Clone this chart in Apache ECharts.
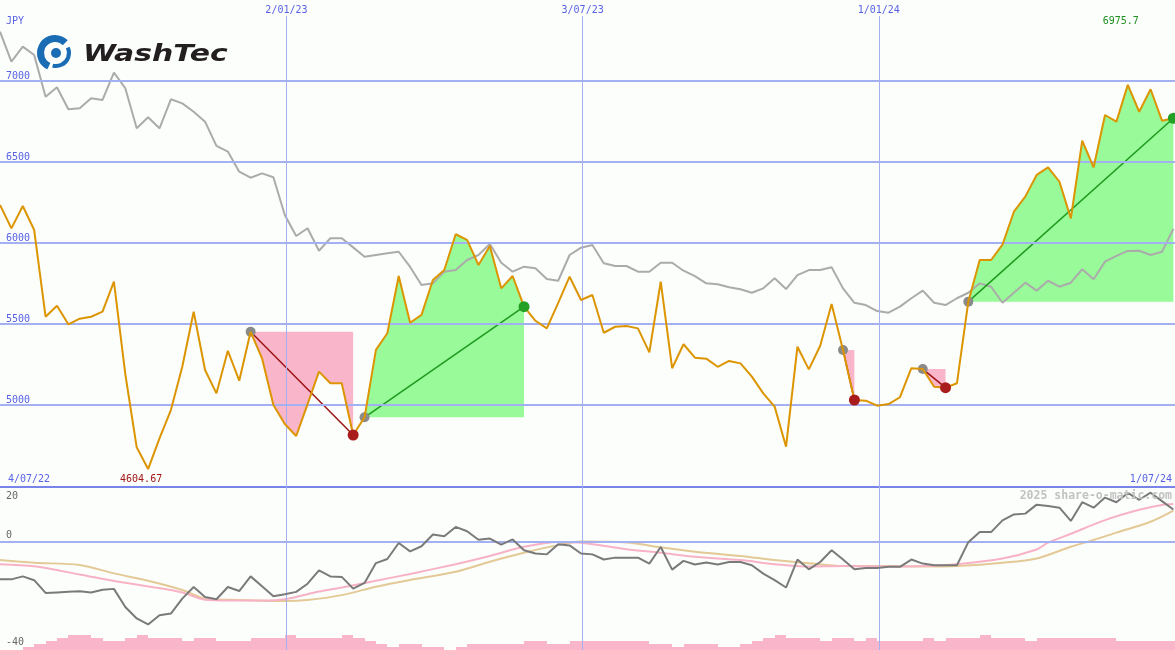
<!DOCTYPE html>
<html><head><meta charset="utf-8">
<script src="https://cdn.jsdelivr.net/npm/echarts@6/dist/echarts.min.js"></script>
<style>html,body{margin:0;padding:0;background:#fcfefc;}#c{width:1175px;height:650px;}</style>
</head><body><div id="c"></div>
<script>
// ---------- data ----------
const startDate = '2022-07-10';          // first weekly point
const endDate = '2024-07-01';            // right edge of the chart
const periodStart = '2022-07-04';
const periodEnd = '2024-07-01';
const dateLines = ['2023-01-02', '2023-07-03', '2024-01-01'];
const priceGrid = [5000, 5500, 6000, 6500, 7000];
const subLabels = [20, 0, -40];

const price = [
 6235,6090,6228,6080,5545,5613,5498,5533,5545,5576,
 5761,5190,4739,4604.67,4794,4969,5236,5576,5216,5072,
 5335,5150,5452,5288,5000,4883,4809,5006,5206,5134,
 5134,4815,4924,5340,5443,5796,5508,5556,5772,5833,
 6054,6019,5864,5981,5720,5796,5607,5520,5473,5630,
 5792,5648,5679,5446,5483,5488,5473,5325,5761,5227,
 5375,5292,5286,5236,5272,5257,5175,5072,4990,4743,
 5360,5220,5366,5623,5340,5031,5027,4996,5006,5048,
 5227,5222,5113,5107,5134,5638,5895,5895,5990,6193,
 6286,6420,6467,6378,6152,6631,6467,6790,6749,6975.7,
 6810,6949,6755,6770];

const benchmark = [
 7304,7119,7212,7160,6903,6961,6825,6831,6893,6883,
 7051,6955,6708,6776,6708,6887,6862,6810,6749,6599,
 6564,6440,6403,6430,6406,6173,6043,6091,5952,6029,
 6029,5973,5915,5926,5936,5946,5852,5741,5751,5823,
 5833,5895,5926,5994,5878,5823,5854,5844,5778,5767,
 5926,5971,5988,5875,5858,5858,5823,5823,5878,5878,
 5829,5796,5751,5745,5727,5714,5693,5720,5782,5716,
 5802,5833,5833,5850,5720,5631,5617,5580,5570,5607,
 5659,5706,5631,5617,5659,5693,5751,5730,5631,5693,
 5755,5706,5767,5730,5755,5838,5776,5885,5920,5951,
 5952,5926,5946,6086];

const relStrength = [
 -14,-14,-12.9,-14.3,-19,-18.8,-18.6,-18.4,-18.8,-17.8,
 -17.5,-24.2,-28.4,-30.6,-27.2,-26.6,-21.1,-16.8,-20.5,-21.3,
 -16.8,-18.3,-12.9,-16.5,-20.2,-19.5,-18.6,-15.6,-10.7,-12.9,
 -13.1,-17.4,-15.3,-8,-6.5,-0.6,-3.7,-1.8,2.5,1.9,
 5.3,3.7,0.6,1,-1.2,0.7,-3.3,-4.5,-4.8,-1.1,
 -1.5,-4.5,-4.8,-6.7,-6,-6,-6,-8.2,-2.1,-10.4,
 -7.2,-8.5,-7.8,-8.5,-7.6,-7.6,-8.8,-11.9,-14.3,-17,
 -6.7,-10.3,-7.6,-3.3,-6.7,-10.3,-9.8,-9.8,-9.4,-9.4,
 -6.7,-8.2,-8.8,-8.8,-8.8,-0.3,3.4,3.4,7.7,9.9,
 10.2,13.5,13,12.4,7.5,14.4,12.4,16.1,14.4,17.8,
 15.3,17.9,14.8,11.7];

const maFastWeeks = [0,3,7,10,13,16,18,20,23,25,28,30,33,36,40,43,46,49,51,55,58,61,65,68,71,74,78,81,84,88,91,92,94,97,100,102,103];
const maFast = [-8.4,-9.2,-12.2,-14.6,-16.6,-18.8,-21.5,-21.8,-21.8,-21.3,-18.5,-17,-14.5,-12,-8.4,-5.4,-2,-0.2,-0.5,-2.9,-4.2,-5.7,-6.9,-8.4,-9.3,-9.1,-9.3,-9.1,-8.4,-6.3,-3,-0.5,2.8,7.8,11.6,13.4,13.7];

const maSlowWeeks = [0,3,7,10,13,16,18,21,25,27,30,33,36,40,43,46,49,51,55,58,61,65,68,71,74,78,81,84,88,91,94,96,98,101,103];
const maSlow = [-6.9,-7.9,-8.7,-11.8,-14.5,-17.9,-21,-21.6,-22,-21.6,-19.8,-16.7,-14.2,-11.2,-7.5,-4.2,-1.4,-0.1,-0.4,-2.2,-3.8,-5.4,-6.9,-8.1,-9.1,-9.1,-9.3,-9.1,-7.9,-6.3,-2,0.5,3.2,7.2,11.3];

const volume = [
 0,0,1,2,3,4,5,5,4,3,
 3,4,5,4,4,4,3,4,4,3,
 3,3,4,4,4,5,4,4,4,4,
 5,4,3,2,1,2,2,1,1,0,
 1,2,2,2,2,2,3,3,2,2,
 3,3,3,3,3,3,3,2,2,1,
 2,2,2,1,1,2,3,4,5,4,
 4,4,3,4,4,3,4,3,3,3,
 3,4,3,4,4,4,5,4,4,4,
 3,4,4,4,4,4,4,4,3,3,
 3,3,3,3];

// swings: [start index, end index, direction]
const moves = [[22,31,'down'],[32,46,'up'],[74,75,'down'],[81,83,'down'],[85,103,'up']];

// ---------- helpers ----------
const DAY = 864e5;
const ts = s => Date.parse(s + 'T00:00:00Z');
const t0 = ts(startDate);
const dates = price.map((_, i) => t0 + i * 7 * DAY);
function fmtDate(t){const d=new Date(t);return d.getUTCDate()+'/'+String(d.getUTCMonth()+1).padStart(2,'0')+'/'+String(d.getUTCFullYear()%100).padStart(2,'0');}
const MONO = "'DejaVu Sans Mono', monospace";
const BLUE = '#5862e4';
const GRID = '#a3b0f2';
const SEP = '#7884ea';
const PINK = '#f9b6ca';
const GREEN = '#98fa98';
const yMin = 4494, yMax = 7401;
const minVal = Math.min(...price), maxVal = Math.max(...price);
const iMin = price.indexOf(minVal), iMax = price.indexOf(maxVal);

const chart = echarts.init(document.getElementById('c'), null, {renderer:'canvas'});

function fillRender(params, api){
  const [a,b,dir] = moves[params.dataIndex];
  const level = price[a];
  const pts = [];
  for (let k=a;k<=b;k++) pts.push(api.coord([dates[k], price[k]]));
  pts.push(api.coord([dates[b], level]));
  return {type:'polygon', shape:{points:pts}, style:{fill: dir==='up'?GREEN:PINK}};
}
function trendRender(params, api){
  const [a,b,dir] = moves[params.dataIndex];
  const p0 = api.coord([dates[a], price[a]]);
  const p1 = api.coord([dates[b], price[b]]);
  return {type:'group', children:[
    {type:'line', shape:{x1:p0[0],y1:p0[1],x2:p1[0],y2:p1[1]}, style:{stroke: dir==='up'?'#1e9a1e':'#9c1414', lineWidth:1.5}},
    {type:'circle', shape:{cx:p0[0],cy:p0[1],r:5}, style:{fill:'#8a8a8a'}}
  ]};
}
function endRender(params, api){
  const [a,b,dir] = moves[params.dataIndex];
  const p1 = api.coord([dates[b], price[b]]);
  return {type:'circle', shape:{cx:p1[0],cy:p1[1],r:5.5}, style:{fill: dir==='up'?'#24a024':'#a81c1c'}};
}
function volRender(params, api){
  const t = api.value(0), v = api.value(1);
  if (!v) return null;
  const p0 = api.coord([t, v]); const p1 = api.coord([t + 7*DAY, 0]);
  return {type:'rect', shape:{x:Math.round(p0[0]), y:p0[1], width:Math.round(p1[0])-Math.round(p0[0]), height:p1[1]-p0[1]}, style:{fill:PINK}};
}

const option = {
  animation:false,
  backgroundColor:'#fcfefc',
  grid:[
    {left:0, right:0, top:16, height:471},
    {left:0, right:0, top:487, height:163}
  ],
  xAxis:[
    {type:'time', gridIndex:0, min:ts(startDate), max:ts(endDate), show:false},
    {type:'time', gridIndex:1, min:ts(startDate), max:ts(endDate), position:'top',
     axisLine:{show:true, onZero:false, lineStyle:{color:SEP, width:2}},
     axisTick:{show:false}, axisLabel:{show:false}, splitLine:{show:false}}
  ],
  yAxis:[
    {type:'value', gridIndex:0, min:yMin, max:yMax,
     axisLine:{show:false}, axisTick:{show:false}, splitLine:{show:false},
     axisLabel:{inside:true, margin:6, customValues:priceGrid, formatter: v => String(v),
       color:BLUE, fontFamily:MONO, fontSize:10, verticalAlign:'bottom'}},
    {type:'value', gridIndex:1, min:-40, max:20, interval:20,
     axisLine:{show:false}, axisTick:{show:false}, splitLine:{show:false},
     axisLabel:{inside:true, margin:6, color:'#666', fontFamily:MONO, fontSize:10,
       formatter: v => v===subLabels[0] ? '{t|'+v+'}' : (v===subLabels[1] ? '{m|'+v+'}' : (v===subLabels[2] ? '{b|'+v+'}' : '')),
       rich:{
         t:{padding:[18,0,0,0], color:'#666', fontFamily:MONO, fontSize:10},
         m:{padding:[0,0,12,0], color:'#666', fontFamily:MONO, fontSize:10},
         b:{padding:[0,0,16,0], color:'#666', fontFamily:MONO, fontSize:10}
       }}},
    {type:'value', gridIndex:1, min:0, max:163/3, show:false}
  ],
  series:[
    {name:'gridMain', type:'line', xAxisIndex:0, yAxisIndex:0, data:[], z:1, silent:true,
     markLine:{silent:true, symbol:'none', animation:false,
       data:[
         ...priceGrid.map(v=>({yAxis:v, lineStyle:{color:GRID, width:2, type:'solid'}, label:{show:false}})),
         ...dateLines.map(d=>({xAxis:ts(d), lineStyle:{color:GRID, width:1, type:'solid'},
            label:{show:true, position:'end', formatter:fmtDate(ts(d)), color:BLUE, fontFamily:MONO, fontSize:10, distance:1}}))
       ]}},
    {name:'moveFill', type:'custom', xAxisIndex:0, yAxisIndex:0, z:2, silent:true,
     data: moves.map(m=>[dates[m[0]], price[m[0]]]), renderItem:fillRender},
    {name:'benchmark', type:'line', xAxisIndex:0, yAxisIndex:0, z:3, silent:true,
     data: dates.map((t,i)=>[t, benchmark[i]]), showSymbol:false,
     lineStyle:{color:'#ababab', width:2}},
    {name:'moveTrend', type:'custom', xAxisIndex:0, yAxisIndex:0, z:4, silent:true,
     data: moves.map(m=>[dates[m[0]], price[m[0]]]), renderItem:trendRender},
    {name:'price', type:'line', xAxisIndex:0, yAxisIndex:0, z:5, silent:true,
     data: dates.map((t,i)=>[t, price[i]]), showSymbol:false,
     lineStyle:{color:'#dc9500', width:2},
     markPoint:{silent:true, symbol:'circle', symbolSize:1, itemStyle:{color:'rgba(0,0,0,0)'},
       data:[
         {coord:[dates[iMin], yMin], label:{show:true, formatter:String(minVal), offset:[-7,-8], color:'#a01818', fontFamily:MONO, fontSize:10}},
         {coord:[dates[iMax], yMax], label:{show:true, formatter:String(maxVal), offset:[-7,5], color:'#1f8f1f', fontFamily:MONO, fontSize:10}}
       ]}},
    {name:'moveEnd', type:'custom', xAxisIndex:0, yAxisIndex:0, z:6, silent:true,
     data: moves.map(m=>[dates[m[1]], price[m[1]]]), renderItem:endRender},

    {name:'gridSub', type:'line', xAxisIndex:1, yAxisIndex:1, data:[], z:1, silent:true,
     markLine:{silent:true, symbol:'none', animation:false, label:{show:false},
       data:[
         {yAxis:0, lineStyle:{color:GRID, width:2, type:'solid'}},
         ...dateLines.map(d=>({xAxis:ts(d), lineStyle:{color:GRID, width:1, type:'solid'}}))
       ]}},
    {name:'volume', type:'custom', xAxisIndex:1, yAxisIndex:2, z:2, silent:true, clip:true,
     data: dates.map((t,i)=>[t, volume[i]]), renderItem:volRender},
    {name:'maSlow', type:'line', xAxisIndex:1, yAxisIndex:1, z:3, silent:true, smooth:0.3,
     data: maSlowWeeks.map((w,i)=>[dates[w], maSlow[i]]), showSymbol:false,
     lineStyle:{color:'#e3c995', width:2}},
    {name:'maFast', type:'line', xAxisIndex:1, yAxisIndex:1, z:4, silent:true, smooth:0.3,
     data: maFastWeeks.map((w,i)=>[dates[w], maFast[i]]), showSymbol:false,
     lineStyle:{color:'#f8b2c6', width:2}},
    {name:'relStrength', type:'line', xAxisIndex:1, yAxisIndex:1, z:5, silent:true,
     data: dates.map((t,i)=>[t, relStrength[i]]), showSymbol:false,
     lineStyle:{color:'#7a7a7a', width:2}}
  ],
  graphic:[
    {type:'text', x:6, y:21.5, silent:true, style:{text:'JPY', fill:BLUE, font:'10px '+MONO, verticalAlign:'middle'}},
    {type:'text', x:8, y:479, silent:true, style:{text:fmtDate(ts(periodStart)), fill:BLUE, font:'10px '+MONO, verticalAlign:'middle'}},
    {type:'text', x:1172, y:479, silent:true, style:{text:fmtDate(ts(periodEnd)), fill:BLUE, font:'10px '+MONO, align:'right', verticalAlign:'middle'}},
    {type:'text', x:1172, y:496, silent:true, z:10, style:{text:'2025 share-o-matic.com', fill:'#c2c2c2', font:'bold 11.5px '+MONO, align:'right', verticalAlign:'middle'}},
    {type:'group', silent:true, z:10, children:[
      {type:'arc', shape:{cx:55, cy:53, r:14.5, startAngle:115*Math.PI/180, endAngle:315*Math.PI/180, clockwise:true}, style:{stroke:'#1a6cb4', lineWidth:7, fill:null}},
      {type:'arc', shape:{cx:56, cy:53, r:13, startAngle:-25*Math.PI/180, endAngle:105*Math.PI/180, clockwise:true}, style:{stroke:'#1a6cb4', lineWidth:4, fill:null}},
      {type:'circle', shape:{cx:56, cy:53, r:5}, style:{fill:'#1a6cb4'}},
      {type:'text', x:83, y:55, scaleX:1.3, style:{text:'WashTec', fill:'#231f20', font:'italic bold 23px "DejaVu Sans"', verticalAlign:'middle'}}
    ]}
  ]
};
chart.setOption(option);
</script>
</body></html>
